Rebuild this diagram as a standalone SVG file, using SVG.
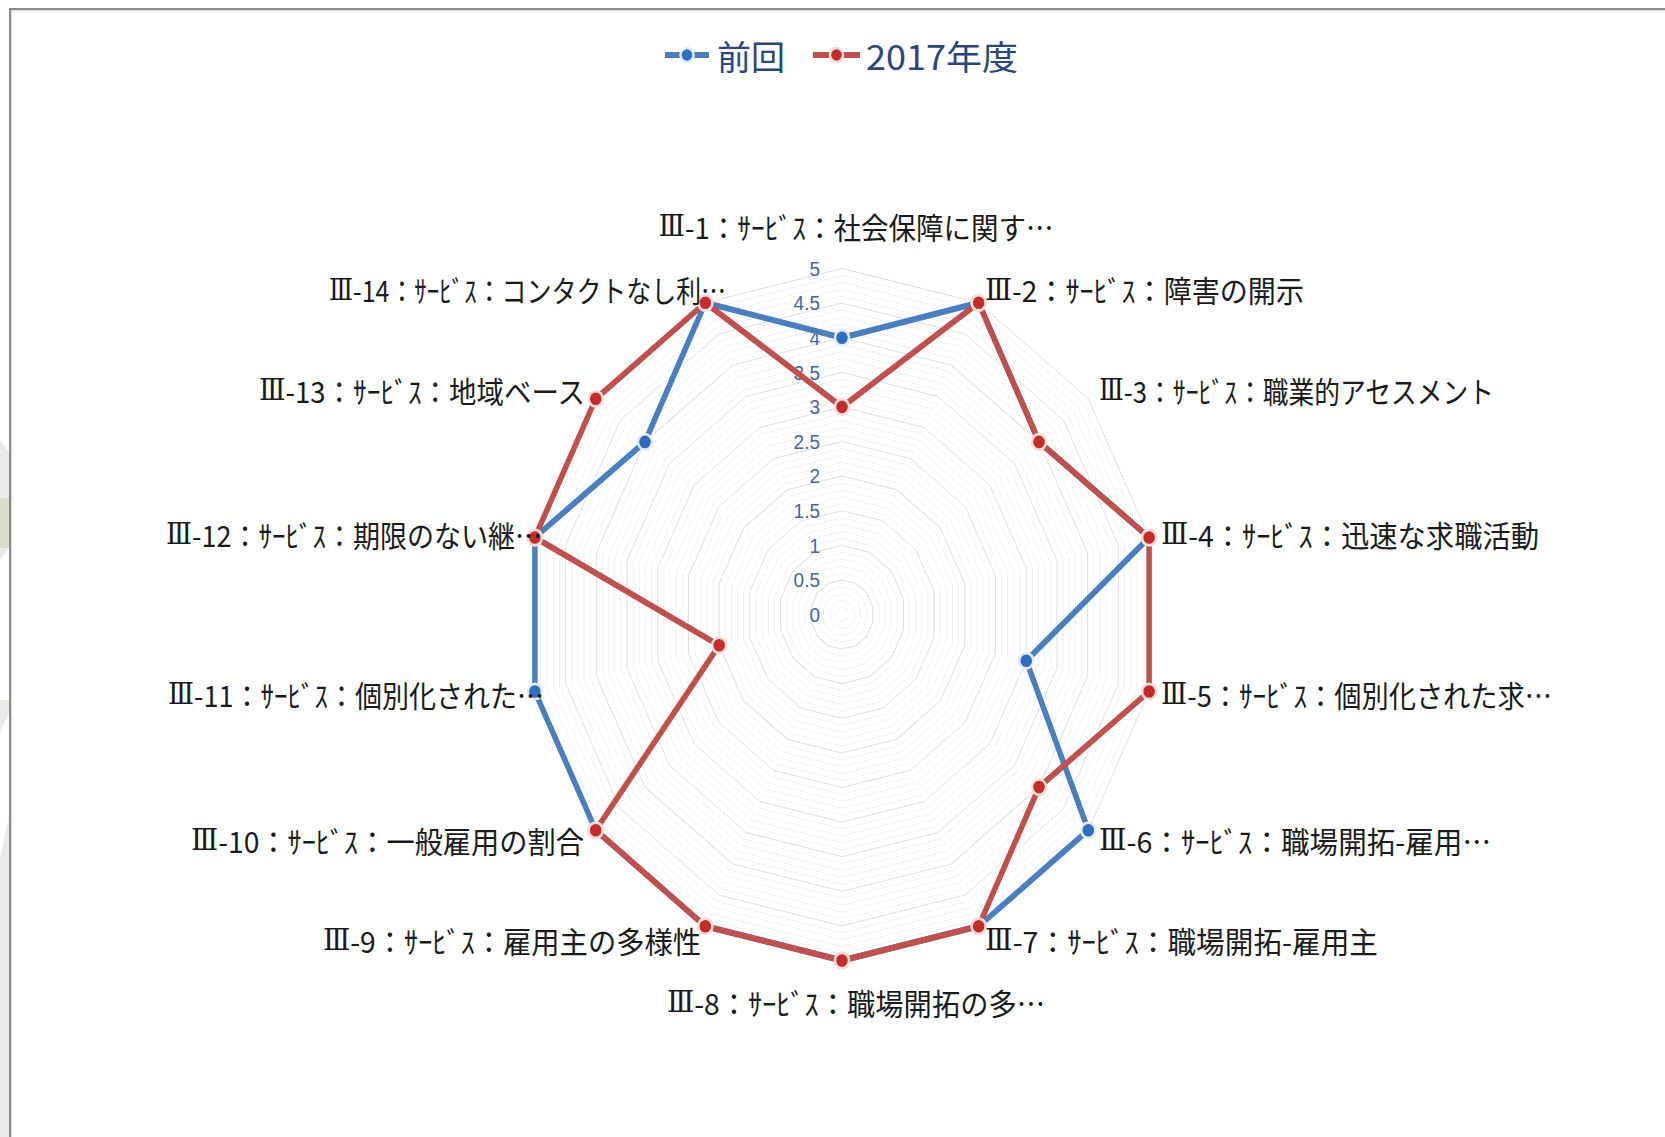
<svg xmlns="http://www.w3.org/2000/svg" xmlns:xlink="http://www.w3.org/1999/xlink" width="1665" height="1137" viewBox="0 0 1665 1137">
<style>
  .gmin{fill:none;stroke:#eef1f6;stroke-width:1}
  .gmaj{fill:none;stroke:#d9e0ea;stroke-width:1}
  .tick{font-family:"Liberation Sans","Noto Sans",sans-serif;font-size:19px;fill:#4a6591;text-anchor:end;dominant-baseline:central}
  .cat{font-family:"Noto Sans CJK JP","Noto Sans",sans-serif;font-size:27px;fill:#1a1a1a;dominant-baseline:central}
  .rn{font-family:"DejaVu Serif","Liberation Serif",serif}
  .sb{fill:none;stroke:#4a7ebf;stroke-width:5.5;stroke-linejoin:round}
  .sr{fill:none;stroke:#c0504d;stroke-width:5.5;stroke-linejoin:round}
  .mb{fill:#2f6dbf;stroke:#e2ebf6;stroke-width:2.5}
  .mr{fill:#c42b2b;stroke:#f6dcd6;stroke-width:2.5}
  .leg{font-family:"Noto Sans CJK JP","Noto Sans",sans-serif;font-size:34px;fill:#2b4679;dominant-baseline:central}
</style>
<defs>
  <polygon id="u" vector-effect="non-scaling-stroke" points="0,-1 0.43388,-0.90097 0.78183,-0.62349 0.97493,-0.22252 0.97493,0.22252 0.78183,0.62349 0.43388,0.90097 0,1 -0.43388,0.90097 -0.78183,0.62349 -0.97493,0.22252 -0.97493,-0.22252 -0.78183,-0.62349 -0.43388,-0.90097"/>
</defs>
<rect x="0" y="0" width="1665" height="1137" fill="#ffffff"/>
<g id="backdrop">
  <polygon points="0,440 9,452 9,548 0,560" fill="#e9ece4"/>
  <rect x="0" y="498" width="9" height="50" fill="#d6dfcc"/>
  <polygon points="0,700 9,700 9,713 0,733" fill="#e9ece4"/>
  <polygon points="0,860 9,815 9,1137 0,1137" fill="#e9ece4"/>
  <line x1="9" y1="9" x2="1665" y2="9" stroke="#8a8a8a" stroke-width="2"/>
  <line x1="11" y1="10.8" x2="1665" y2="10.8" stroke="#cfcfcf" stroke-width="1"/>
  <line x1="10" y1="9" x2="10" y2="1137" stroke="#8a8a8a" stroke-width="2"/>
  <line x1="11.8" y1="11" x2="11.8" y2="1137" stroke="#d6d6d6" stroke-width="1"/>
</g>
<g id="legend">
  <g id="legend-prev">
    <line x1="665" y1="55" x2="709" y2="55" stroke="#4a7ebf" stroke-width="6"/>
    <ellipse cx="687" cy="55" rx="6.5" ry="7" class="mb"/>
    <text x="717" y="55" class="leg">前回</text>
  </g>
  <g id="legend-2017">
    <line x1="813" y1="55" x2="860" y2="55" stroke="#c0504d" stroke-width="6"/>
    <ellipse cx="836.5" cy="55" rx="6.5" ry="7" class="mr"/>
    <text x="866" y="55" class="leg" textLength="152" lengthAdjust="spacingAndGlyphs">2017年度</text>
  </g>
</g>
<g id="chart" transform="translate(842 614.5) scale(1 1.0984)">
  <g id="grid">
    <use href="#u" class="gmin" transform="scale(6.3)"/>
    <use href="#u" class="gmin" transform="scale(12.6)"/>
    <use href="#u" class="gmin" transform="scale(18.9)"/>
    <use href="#u" class="gmin" transform="scale(25.2)"/>
    <use href="#u" class="gmaj" transform="scale(31.5)"/>
    <use href="#u" class="gmin" transform="scale(37.8)"/>
    <use href="#u" class="gmin" transform="scale(44.1)"/>
    <use href="#u" class="gmin" transform="scale(50.4)"/>
    <use href="#u" class="gmin" transform="scale(56.7)"/>
    <use href="#u" class="gmaj" transform="scale(63)"/>
    <use href="#u" class="gmin" transform="scale(69.3)"/>
    <use href="#u" class="gmin" transform="scale(75.6)"/>
    <use href="#u" class="gmin" transform="scale(81.9)"/>
    <use href="#u" class="gmin" transform="scale(88.2)"/>
    <use href="#u" class="gmaj" transform="scale(94.5)"/>
    <use href="#u" class="gmin" transform="scale(100.8)"/>
    <use href="#u" class="gmin" transform="scale(107.1)"/>
    <use href="#u" class="gmin" transform="scale(113.4)"/>
    <use href="#u" class="gmin" transform="scale(119.7)"/>
    <use href="#u" class="gmaj" transform="scale(126)"/>
    <use href="#u" class="gmin" transform="scale(132.3)"/>
    <use href="#u" class="gmin" transform="scale(138.6)"/>
    <use href="#u" class="gmin" transform="scale(144.9)"/>
    <use href="#u" class="gmin" transform="scale(151.2)"/>
    <use href="#u" class="gmaj" transform="scale(157.5)"/>
    <use href="#u" class="gmin" transform="scale(163.8)"/>
    <use href="#u" class="gmin" transform="scale(170.1)"/>
    <use href="#u" class="gmin" transform="scale(176.4)"/>
    <use href="#u" class="gmin" transform="scale(182.7)"/>
    <use href="#u" class="gmaj" transform="scale(189)"/>
    <use href="#u" class="gmin" transform="scale(195.3)"/>
    <use href="#u" class="gmin" transform="scale(201.6)"/>
    <use href="#u" class="gmin" transform="scale(207.9)"/>
    <use href="#u" class="gmin" transform="scale(214.2)"/>
    <use href="#u" class="gmaj" transform="scale(220.5)"/>
    <use href="#u" class="gmin" transform="scale(226.8)"/>
    <use href="#u" class="gmin" transform="scale(233.1)"/>
    <use href="#u" class="gmin" transform="scale(239.4)"/>
    <use href="#u" class="gmin" transform="scale(245.7)"/>
    <use href="#u" class="gmaj" transform="scale(252)"/>
    <use href="#u" class="gmin" transform="scale(258.3)"/>
    <use href="#u" class="gmin" transform="scale(264.6)"/>
    <use href="#u" class="gmin" transform="scale(270.9)"/>
    <use href="#u" class="gmin" transform="scale(277.2)"/>
    <use href="#u" class="gmaj" transform="scale(283.5)"/>
    <use href="#u" class="gmin" transform="scale(289.8)"/>
    <use href="#u" class="gmin" transform="scale(296.1)"/>
    <use href="#u" class="gmin" transform="scale(302.4)"/>
    <use href="#u" class="gmin" transform="scale(308.7)"/>
    <use href="#u" class="gmaj" transform="scale(315)"/>
  </g>
  <g id="ticks">
    <text class="tick" x="-22" y="0">0</text>
    <text class="tick" x="-22" y="-31.5">0.5</text>
    <text class="tick" x="-22" y="-63">1</text>
    <text class="tick" x="-22" y="-94.5">1.5</text>
    <text class="tick" x="-22" y="-126">2</text>
    <text class="tick" x="-22" y="-157.5">2.5</text>
    <text class="tick" x="-22" y="-189">3</text>
    <text class="tick" x="-22" y="-220.5">3.5</text>
    <text class="tick" x="-22" y="-252">4</text>
    <text class="tick" x="-22" y="-283.5">4.5</text>
    <text class="tick" x="-22" y="-315">5</text>
  </g>
  <g id="connectors">
    <polygon id="series-prev" class="sb" points="0,-252 136.67,-283.81 197.02,-157.12 307.11,-70.10 184.26,42.06 246.28,196.40 136.67,283.81 0,315 -136.67,283.81 -246.28,196.40 -307.11,70.10 -307.11,-70.10 -197.02,-157.12 -136.67,-283.81"/>
    <polygon id="series-2017" class="sr" points="0,-189 136.67,-283.81 197.02,-157.12 307.11,-70.10 307.11,70.10 197.02,157.12 136.67,283.81 0,315 -136.67,283.81 -246.28,196.40 -122.84,28.04 -307.11,-70.10 -246.28,-196.40 -136.67,-283.81"/>
  </g>
  <g id="markers-prev">
    <circle class="mb" r="7" cx="0" cy="-252"/>
    <circle class="mb" r="7" cx="136.67" cy="-283.81"/>
    <circle class="mb" r="7" cx="197.02" cy="-157.12"/>
    <circle class="mb" r="7" cx="307.11" cy="-70.10"/>
    <circle class="mb" r="7" cx="184.26" cy="42.06"/>
    <circle class="mb" r="7" cx="246.28" cy="196.40"/>
    <circle class="mb" r="7" cx="136.67" cy="283.81"/>
    <circle class="mb" r="7" cx="0" cy="315"/>
    <circle class="mb" r="7" cx="-136.67" cy="283.81"/>
    <circle class="mb" r="7" cx="-246.28" cy="196.40"/>
    <circle class="mb" r="7" cx="-307.11" cy="70.10"/>
    <circle class="mb" r="7" cx="-307.11" cy="-70.10"/>
    <circle class="mb" r="7" cx="-197.02" cy="-157.12"/>
    <circle class="mb" r="7" cx="-136.67" cy="-283.81"/>
  </g>
  <g id="markers-2017">
    <circle class="mr" r="7" cx="0" cy="-189"/>
    <circle class="mr" r="7" cx="136.67" cy="-283.81"/>
    <circle class="mr" r="7" cx="197.02" cy="-157.12"/>
    <circle class="mr" r="7" cx="307.11" cy="-70.10"/>
    <circle class="mr" r="7" cx="307.11" cy="70.10"/>
    <circle class="mr" r="7" cx="197.02" cy="157.12"/>
    <circle class="mr" r="7" cx="136.67" cy="283.81"/>
    <circle class="mr" r="7" cx="0" cy="315"/>
    <circle class="mr" r="7" cx="-136.67" cy="283.81"/>
    <circle class="mr" r="7" cx="-246.28" cy="196.40"/>
    <circle class="mr" r="7" cx="-122.84" cy="28.04"/>
    <circle class="mr" r="7" cx="-307.11" cy="-70.10"/>
    <circle class="mr" r="7" cx="-246.28" cy="-196.40"/>
    <circle class="mr" r="7" cx="-136.67" cy="-283.81"/>
  </g>
  <g id="labels">
    <g id="n1"><text class="cat" x="14" y="-353.7" text-anchor="middle" textLength="395" lengthAdjust="spacingAndGlyphs"><tspan class="rn">Ⅲ</tspan>-1：ｻｰﾋﾞｽ：社会保障に関す…</text></g>
    <g id="n2"><text class="cat" x="143" y="-296.3" textLength="319" lengthAdjust="spacingAndGlyphs"><tspan class="rn">Ⅲ</tspan>-2：ｻｰﾋﾞｽ：障害の開示</text></g>
    <g id="n3"><text class="cat" x="257" y="-204.4" textLength="395" lengthAdjust="spacingAndGlyphs"><tspan class="rn">Ⅲ</tspan>-3：ｻｰﾋﾞｽ：職業的アセスメント</text></g>
    <g id="n4"><text class="cat" x="319" y="-73.3" textLength="378" lengthAdjust="spacingAndGlyphs"><tspan class="rn">Ⅲ</tspan>-4：ｻｰﾋﾞｽ：迅速な求職活動</text></g>
    <g id="n5"><text class="cat" x="319" y="72.4" textLength="391" lengthAdjust="spacingAndGlyphs"><tspan class="rn">Ⅲ</tspan>-5：ｻｰﾋﾞｽ：個別化された求…</text></g>
    <g id="n6"><text class="cat" x="257" y="205.3" textLength="392" lengthAdjust="spacingAndGlyphs"><tspan class="rn">Ⅲ</tspan>-6：ｻｰﾋﾞｽ：職場開拓-雇用…</text></g>
    <g id="n7"><text class="cat" x="143" y="296.3" textLength="393" lengthAdjust="spacingAndGlyphs"><tspan class="rn">Ⅲ</tspan>-7：ｻｰﾋﾞｽ：職場開拓-雇用主</text></g>
    <g id="n8"><text class="cat" x="14" y="352.8" text-anchor="middle" textLength="378" lengthAdjust="spacingAndGlyphs"><tspan class="rn">Ⅲ</tspan>-8：ｻｰﾋﾞｽ：職場開拓の多…</text></g>
    <g id="n9"><text class="cat" x="-141" y="296.3" text-anchor="end" textLength="378" lengthAdjust="spacingAndGlyphs"><tspan class="rn">Ⅲ</tspan>-9：ｻｰﾋﾞｽ：雇用主の多様性</text></g>
    <g id="n10"><text class="cat" x="-258" y="205.3" text-anchor="end" textLength="393" lengthAdjust="spacingAndGlyphs"><tspan class="rn">Ⅲ</tspan>-10：ｻｰﾋﾞｽ：一般雇用の割合</text></g>
    <g id="n11"><text class="cat" x="-298" y="72.4" text-anchor="end" textLength="376" lengthAdjust="spacingAndGlyphs"><tspan class="rn">Ⅲ</tspan>-11：ｻｰﾋﾞｽ：個別化された…</text></g>
    <g id="n12"><text class="cat" x="-300" y="-73.3" text-anchor="end" textLength="376" lengthAdjust="spacingAndGlyphs"><tspan class="rn">Ⅲ</tspan>-12：ｻｰﾋﾞｽ：期限のない継…</text></g>
    <g id="n13"><text class="cat" x="-257" y="-204.4" text-anchor="end" textLength="326" lengthAdjust="spacingAndGlyphs"><tspan class="rn">Ⅲ</tspan>-13：ｻｰﾋﾞｽ：地域ベース</text></g>
    <g id="n14"><text class="cat" x="-116" y="-296.3" text-anchor="end" textLength="397" lengthAdjust="spacingAndGlyphs"><tspan class="rn">Ⅲ</tspan>-14：ｻｰﾋﾞｽ：コンタクトなし利…</text></g>
  </g>
</g>
</svg>
